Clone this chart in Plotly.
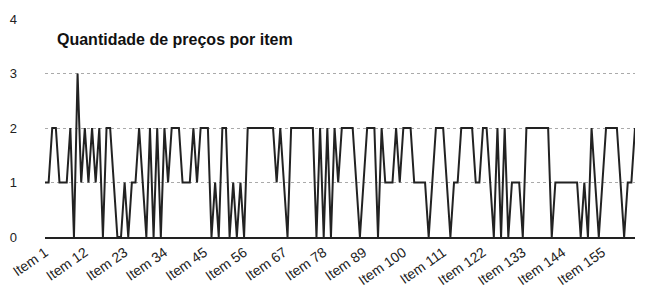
import plotly.graph_objects as go

title_text = "Quantidade de preços por item"
values = [
    1, 1, 2, 2, 1, 1, 1, 2, 0, 3,
    1, 2, 1, 2, 1, 2, 0, 2, 2, 1,
    0, 0, 1, 0, 1, 1, 2, 1, 0, 2,
    0, 2, 0, 2, 1, 2, 2, 2, 1, 1,
    1, 2, 1, 2, 2, 2, 0, 1, 0, 2,
    2, 0, 1, 0, 1, 0, 2, 2, 2, 2,
    2, 2, 2, 2, 1, 2, 1, 0, 2, 2,
    2, 2, 2, 2, 2, 0, 2, 0, 2, 0,
    2, 1, 2, 2, 2, 2, 1, 0, 1, 2,
    2, 2, 0, 2, 1, 1, 1, 2, 1, 2,
    2, 2, 1, 1, 1, 1, 0, 1, 2, 2,
    2, 1, 0, 1, 1, 2, 2, 2, 2, 1,
    1, 2, 2, 1, 0, 2, 0, 2, 0, 1,
    1, 1, 0, 2, 2, 2, 2, 2, 2, 2,
    0, 1, 1, 1, 1, 1, 1, 1, 0, 1,
    0, 2, 1, 0, 1, 2, 2, 2, 2, 1,
    0, 1, 1, 2,
]
categories = ["Item %d" % (i + 1) for i in range(len(values))]
tick_labels = categories[::11]
y_ticks = [0, 1, 2, 3, 4]

fig = go.Figure()
fig.add_trace(go.Scatter(
    x=categories, y=values, mode="lines",
    line=dict(color="#222222", width=2),
    hoverinfo="skip", showlegend=False,
))

fig.update_layout(
    width=647, height=295,
    margin=dict(l=45, r=12, t=19, b=58),
    paper_bgcolor="white", plot_bgcolor="white",
    font=dict(family="Liberation Sans, Arial, sans-serif", color="#222222", size=13),
    xaxis=dict(
        type="category", automargin=False,
        range=[0, len(values) - 1],
        tickmode="array", tickvals=tick_labels, ticktext=tick_labels,
        tickangle=-35,
        showgrid=False, zeroline=False,
        showline=True, linecolor="#222222", linewidth=2,
        ticks="", tickfont=dict(size=14),
    ),
    yaxis=dict(
        range=[0, 4], automargin=False,
        tickvals=y_ticks,
        showgrid=True, gridcolor="#aaaaaa", gridwidth=1, griddash="dot",
        zeroline=False, showline=False,
        ticks="", ticklabelstandoff=27,
        tickfont=dict(size=13, color="#222222"),
    ),
    annotations=[dict(
        text="<b>" + title_text + "</b>",
        xref="paper", yref="paper", x=0.017, y=0.905,
        xanchor="left", yanchor="middle", showarrow=False,
        font=dict(size=16, color="#111111"),
    )],
)

fig.write_html(
    "out.html",
    config={"displayModeBar": False},
    post_script="document.body.style.margin='0';document.body.style.padding='0';",
)
